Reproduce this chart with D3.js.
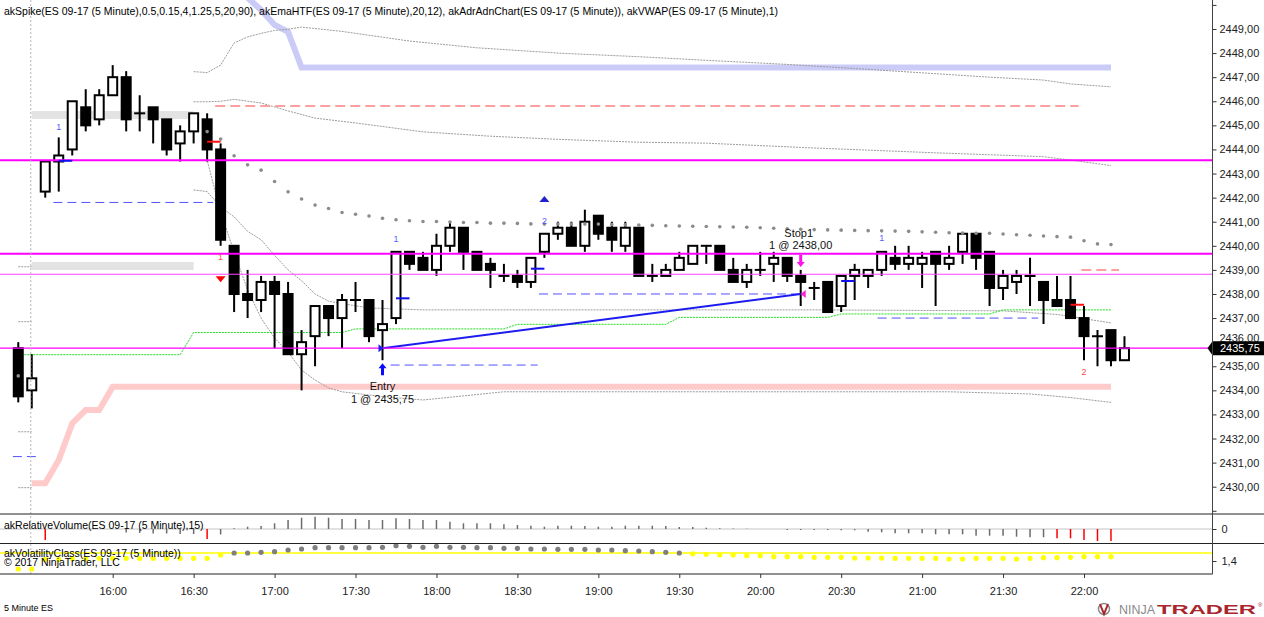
<!DOCTYPE html>
<html>
<head>
<meta charset="utf-8">
<script src="https://cdn.jsdelivr.net/npm/d3@7"></script>
<style>
body { margin: 0; background: #fff; }
svg { display: block; font-family: "Liberation Sans", Arial, sans-serif; }
</style>
</head>
<body>
<script>
// 5 minute ES bars, first bar at 15:25
var firstBar = "15:25";
var opens = [2435.75, 2434.0, 2442.25, 2443.5, 2444.0, 2445.75, 2445.25, 2446.25, 2447.0, 2445.5,
  2445.75, 2445.25, 2444.25, 2444.75, 2445.25, 2444.0, 2440.0, 2438.0, 2437.75, 2438.5,
  2438.0, 2435.5, 2436.25, 2437.5, 2437.0, 2437.75, 2437.75, 2436.5, 2437.0, 2439.75,
  2439.5, 2439.0, 2440.0, 2440.75, 2439.75, 2439.25, 2438.75, 2438.75, 2438.5, 2439.75,
  2440.5, 2440.75, 2440.0, 2441.25, 2440.75, 2440.0, 2440.75, 2438.75, 2438.75, 2439.0,
  2439.25, 2440.0, 2440.0, 2439.0, 2438.5, 2439.0, 2439.25, 2439.5, 2438.75, 2438.25,
  2438.5, 2437.5, 2438.75, 2438.75, 2439.0, 2439.5, 2439.25, 2439.25, 2439.75, 2439.25,
  2439.75, 2440.5, 2439.75, 2438.25, 2438.5, 2438.75, 2438.5, 2437.75, 2437.75, 2437.0,
  2436.25, 2436.5, 2435.25];
var highs = [2436.0, 2435.5, 2443.5, 2444.5, 2446.0, 2446.5, 2446.5, 2447.5, 2447.25, 2446.25,
  2445.75, 2445.25, 2445.0, 2445.5, 2445.5, 2444.25, 2440.0, 2439.0, 2438.75, 2438.75,
  2438.5, 2436.5, 2437.5, 2437.5, 2438.0, 2438.5, 2437.75, 2437.75, 2439.75, 2439.75,
  2439.75, 2440.5, 2441.0, 2440.75, 2439.75, 2439.5, 2439.25, 2439.0, 2439.5, 2440.5,
  2441.0, 2441.0, 2441.5, 2441.25, 2441.0, 2441.0, 2440.75, 2439.25, 2439.25, 2439.75,
  2440.0, 2440.0, 2440.0, 2439.5, 2439.25, 2439.75, 2439.75, 2439.5, 2439.0, 2438.5,
  2438.5, 2438.75, 2439.25, 2439.0, 2439.75, 2440.0, 2440.0, 2439.75, 2439.75, 2440.0,
  2440.5, 2440.5, 2439.75, 2439.0, 2439.0, 2439.5, 2438.5, 2438.75, 2438.75, 2437.5,
  2436.5, 2436.5, 2436.25];
var lows = [2433.5, 2433.25, 2442.0, 2442.25, 2443.75, 2444.75, 2445.0, 2446.25, 2444.75, 2444.75,
  2444.25, 2443.75, 2443.5, 2444.25, 2443.5, 2440.0, 2437.25, 2437.0, 2437.25, 2435.75,
  2435.5, 2434.0, 2435.0, 2436.25, 2435.75, 2437.25, 2436.0, 2435.25, 2436.75, 2439.0,
  2439.0, 2438.75, 2439.75, 2439.0, 2439.0, 2438.25, 2438.5, 2438.25, 2438.25, 2439.5,
  2440.25, 2440.0, 2439.75, 2440.25, 2439.75, 2439.75, 2438.75, 2438.5, 2438.75, 2439.0,
  2439.25, 2439.25, 2439.0, 2438.5, 2438.25, 2438.75, 2438.5, 2438.5, 2437.5, 2437.75,
  2437.25, 2437.25, 2437.75, 2438.25, 2438.75, 2439.0, 2439.0, 2438.25, 2437.5, 2439.0,
  2439.25, 2439.0, 2437.5, 2437.75, 2438.0, 2437.5, 2436.75, 2437.5, 2437.0, 2435.25,
  2435.0, 2435.0, 2435.25];
var closes = [2433.75, 2434.5, 2443.5, 2443.75, 2446.0, 2445.0, 2446.25, 2447.0, 2445.25, 2445.5,
  2445.25, 2444.0, 2444.75, 2445.5, 2444.0, 2440.25, 2438.0, 2437.75, 2438.5, 2438.0,
  2435.5, 2436.0, 2437.5, 2437.0, 2437.75, 2437.75, 2436.25, 2436.75, 2439.75, 2439.25,
  2439.0, 2440.0, 2440.75, 2439.75, 2439.0, 2439.0, 2438.75, 2438.5, 2439.5, 2440.5,
  2440.75, 2440.0, 2441.0, 2440.5, 2440.25, 2440.75, 2438.75, 2438.75, 2439.0, 2439.5,
  2440.0, 2440.0, 2439.0, 2438.5, 2439.0, 2439.0, 2439.5, 2438.75, 2438.5, 2438.25,
  2437.25, 2438.75, 2439.0, 2439.0, 2439.75, 2439.25, 2439.5, 2439.5, 2439.25, 2439.5,
  2440.5, 2439.5, 2438.25, 2438.75, 2438.75, 2438.75, 2437.75, 2437.5, 2437.0, 2436.25,
  2436.25, 2435.25, 2435.75];

// akVWAP dots, one per bar (null = none)
var vwap = [2434.6, null, null, null, null, null, null, null, null, null,
  null, null, null, null, 2444.74, 2444.43, 2443.74, 2443.36, 2443.14, 2442.67,
  2442.24, 2441.94, 2441.69, 2441.55, 2441.38, 2441.31, 2441.24, 2441.14, 2441.08, 2441.04,
  2441.01, 2441.01, 2440.99, 2440.97, 2440.97, 2440.94, 2440.94, 2440.93, 2440.91, 2440.9,
  2440.9, 2440.9, 2440.9, 2440.9, 2440.88, 2440.87, 2440.86, 2440.85, 2440.83, 2440.82,
  2440.81, 2440.8, 2440.79, 2440.78, 2440.77, 2440.75, 2440.73, 2440.71, 2440.69, 2440.67,
  2440.66, 2440.65, 2440.64, 2440.63, 2440.62, 2440.61, 2440.6, 2440.58, 2440.56, 2440.54,
  2440.53, 2440.52, 2440.52, 2440.49, 2440.46, 2440.44, 2440.41, 2440.38, 2440.36, 2440.21,
  2440.08, 2440.05, null];

// akAdrAdnChart grey bands, [bar, price] (bars counted from 1)
var adrTop = [[1, 2439.13], [2, 2439.13], [3, null], [14, 2447.23], [15, 2447.19], [16, 2447.5], [17, 2448.42],
  [18, 2448.67], [19, 2448.82], [20, 2448.94], [21, 2448.99], [22, 2449.08], [25, 2448.9], [30, 2448.5],
  [35, 2448.22], [41, 2448.0], [47, 2447.85], [52, 2447.7], [58, 2447.53], [63, 2447.36], [68, 2447.18],
  [73, 2447.0], [77, 2446.88], [79, 2446.72], [82, 2446.6]];
var adrHigh = [[1, 2436.85], [2, 2436.85], [3, null], [14, 2445.98], [15, 2445.98], [16, 2446.0], [17, 2446.08],
  [19, 2445.93], [21, 2445.6], [23, 2445.3], [26, 2445.1], [31, 2444.73], [36, 2444.55], [41, 2444.42],
  [47, 2444.3], [52, 2444.26], [60, 2444.06], [69, 2443.86], [77, 2443.7], [79, 2443.56], [82, 2443.33]];
var adrLow = [[1, 2432.28], [2, 2432.28], [3, null], [14, 2442.32], [15, 2442.25], [16, 2441.62], [17, 2441.2],
  [18, 2440.6], [19, 2440.25], [20, 2439.6], [21, 2439.0], [22, 2438.55], [23, 2438.0], [24, 2437.7],
  [25, 2437.6], [27, 2437.42], [31, 2437.34], [60, 2437.34], [74, 2437.3], [78, 2437.15], [82, 2436.8]];
var adrBottom = [[1, 2429.96], [2, 2429.96], [3, null], [14, 2443.56], [15, 2443.56], [16, 2441.4], [17, 2439.74],
  [18, 2438.17], [19, 2437.0], [20, 2436.17], [21, 2435.59], [22, 2434.84], [23, 2434.43], [24, 2434.1],
  [25, 2433.94], [28, 2433.74], [31, 2433.6], [34, 2433.77], [37, 2433.94], [70, 2433.94], [76, 2433.85],
  [79, 2433.7], [82, 2433.5]];

// akEmaHTF and the other indicator lines
var emaHtf = [[18, 2450.3], [19, 2449.79], [20, 2449.17], [21, 2448.88], [22, 2447.4], [82, 2447.4]];
var supportBand = [[2, 2430.14], [3, 2430.14], [4, 2431.11], [5, 2432.63], [6, 2433.18], [7, 2433.18],
  [8, 2434.15], [82, 2434.15]];
var greenStop = [[1, 2435.48], [13, 2435.48], [14, 2436.4], [25, 2436.4], [26, 2436.55], [37, 2436.55],
  [38, 2436.74], [49, 2436.74], [50, 2437.03], [61, 2437.03], [62, 2437.17], [73, 2437.17],
  [74, 2437.34], [82, 2437.34]];
var spikeZones = [[2, 14, 2445.43], [2, 14, 2439.16]];

// horizontal levels [fromBar, toBar, price]
var blueDashes = [[3.6, 15.45, 2441.8], [28.6, 39.5, 2435.05], [39.6, 59, 2438.0], [64.7, 76.6, 2437.0], [0.6, 2.3, 2431.25]];
var redDashes = [[15.6, 79.6, 2445.8], [79.8, 82.6, 2439.0]];
var blueTicks = [[4, 5, 2443.53], [29, 30, 2437.82], [39, 40, 2439.05], [62, 63, 2438.54]];
var redTicks = [[15, 16, 2444.32], [79, 80, 2437.55]];
var magentaLevels = [2443.55, 2439.67, 2438.82, 2435.75];

// signal counts [bar, price, text]
var blueCounts = [[4, 2444.95, "1"], [29, 2440.28, "1"], [40, 2441.04, "2"], [65, 2440.31, "1"]];
var redCounts = [[16, 2439.52, "1"], [80, 2434.77, "2"]];
var downSignals = [[16, 2438.61]];
var upSignals = [[40, 2441.94]];

// trade
var entryBar = 28, entryPrice = 2435.75;
var exitBar = 59, exitPrice = 2438.00;

// lower panels
var relVolume = [null, null, -1.1, null, null, null, null, null, -0.35, -0.4,
  -0.45, -0.45, -0.5, -0.5, -1.0, -0.55, 0.07, 0.23, 0.3, 0.57,
  0.9, 1.13, 1.23, 1.13, 1.0, 1.0, 0.9, 0.9, 1.07, 1.0,
  0.9, 0.9, 0.73, 0.57, 0.57, 0.57, 0.47, 0.4, 0.33, 0.23,
  0.33, 0.33, 0.3, 0.23, 0.23, 0.33, 0.33, 0.33, 0.3, 0.2,
  0.2, 0.13, 0.07, 0.05, 0.03, null, null, -0.1, -0.1, -0.1,
  -0.1, -0.13, -0.13, -0.27, -0.33, -0.43, -0.43, -0.43, -0.53, -0.53,
  -0.53, -0.67, -0.67, -0.67, -0.77, -0.83, -0.83, -0.93, -0.93, -1.1,
  -1.2, -1.2, null];
var relVolumeSpikes = [3, 15, 78, 79, 80, 81, 82];
var volClass = [1.3, 1.3, 1.42, 1.42, 1.43, 1.43, 1.434, 1.434, 1.434, 1.434,
  1.434, 1.434, 1.434, 1.434, 1.434, 1.475, 1.5, 1.5, 1.509, 1.516,
  1.5375, 1.55, 1.566, 1.566, 1.566, 1.566, 1.566, 1.571, 1.591, 1.584,
  1.571, 1.584, 1.571, 1.571, 1.566, 1.566, 1.559, 1.559, 1.55, 1.55,
  1.546, 1.546, 1.546, 1.5375, 1.5375, 1.529, 1.525, 1.516, 1.509, 1.5,
  1.49, 1.484, 1.475, 1.475, 1.466, 1.466, 1.454, 1.454, 1.454, 1.446,
  1.446, 1.446, 1.4375, 1.4375, 1.4375, 1.434, 1.434, 1.434, 1.434, 1.425,
  1.425, 1.434, 1.434, 1.434, 1.425, 1.434, 1.441, 1.441, 1.446, 1.454,
  1.454, 1.454, null];
var volThreshold = 1.5;

var priceTicks = d3.range(2429, 2451);
var timeTicks = ["16:00", "16:30", "17:00", "17:30", "18:00", "18:30", "19:00", "19:30", "20:00", "20:30", "21:00", "21:30", "22:00"];

// ---------------------------------------------------------------------------
var width = 1264, height = 617;
var plotRight = 1212.5, priceBottom = 514, volBottom = 543.5, panelBottom = 574;

var parseT = d3.timeParse("%H:%M");
var t0 = parseT(firstBar);
function tAt(i) { return new Date(+t0 + (i - 1) * 5 * 60000); }
function comma(v) { return d3.format(".2f")(v).replace(".", ","); }
function comma1(v) { return d3.format(".1f")(v).replace(".", ","); }

var x = d3.scaleTime().domain([parseT("16:00"), parseT("22:00")]).range([112.7, 1084]);
var y = d3.scaleLinear().domain([2430, 2449]).range([486.7, 29]);
var yVol = d3.scaleLinear().domain([-1.5, 1.5]).range([544, 514]);
var yVc = d3.scaleLinear().domain([1.3, 1.6]).range([569, 545]);

var bars = opens.map(function(o, k) {
  return { i: k + 1, t: tAt(k + 1), o: o, h: highs[k], l: lows[k], c: closes[k] };
});
function bx(i) { return x(tAt(i)); }

var svg = d3.select("body").append("svg")
  .attr("width", width)
  .attr("height", height);

svg.append("defs").append("clipPath").attr("id", "clipPrice")
  .append("rect").attr("x", 0).attr("y", 0).attr("width", plotRight).attr("height", priceBottom);

var price = svg.append("g").attr("clip-path", "url(#clipPrice)");

// session break
svg.append("line")
  .attr("x1", x(parseT("15:30")) - 1).attr("x2", x(parseT("15:30")) - 1)
  .attr("y1", 0).attr("y2", panelBottom)
  .attr("stroke", "#b8b8b8").attr("stroke-dasharray", "2,2");

// akSpike zones
price.selectAll("line.zone").data(spikeZones).enter().append("line")
  .attr("x1", function(d) { return bx(d[0]); })
  .attr("x2", function(d) { return bx(d[1]); })
  .attr("y1", function(d) { return y(d[2]); })
  .attr("y2", function(d) { return y(d[2]); })
  .attr("stroke", "#e3e3e3").attr("stroke-width", 8);

var pairLine = d3.line()
  .defined(function(d) { return d[1] != null; })
  .x(function(d) { return bx(d[0]); })
  .y(function(d) { return y(d[1]); });

price.append("path").attr("d", pairLine(supportBand))
  .attr("fill", "none").attr("stroke", "#ffcaca").attr("stroke-width", 6);
price.append("path").attr("d", pairLine(emaHtf))
  .attr("fill", "none").attr("stroke", "#cbcbf7").attr("stroke-width", 6);

[adrTop, adrHigh, adrLow, adrBottom].forEach(function(s) {
  price.append("path").attr("d", pairLine(s))
    .attr("fill", "none").attr("stroke", "#9c9c9c").attr("stroke-width", 1)
    .attr("stroke-dasharray", "2,1");
});

price.append("path").attr("d", pairLine(greenStop))
  .attr("fill", "none").attr("stroke", "#22dd22").attr("stroke-width", 1)
  .attr("stroke-dasharray", "2,1");

function levels(data, cls, color, w, dash) {
  price.selectAll("line." + cls).data(data).enter().append("line")
    .attr("class", cls)
    .attr("x1", function(d) { return bx(d[0]); })
    .attr("x2", function(d) { return bx(d[1]); })
    .attr("y1", function(d) { return y(d[2]); })
    .attr("y2", function(d) { return y(d[2]); })
    .attr("stroke", color).attr("stroke-width", w)
    .attr("stroke-dasharray", dash);
}
levels(redDashes, "rdash", "#ffa0a0", 2, "10,5");
levels(blueDashes, "bdash", "#5252ff", 1, "9,5");

// candles
var candles = price.selectAll("g.bar").data(bars).enter().append("g").attr("class", "bar");
candles.append("line")
  .attr("x1", function(d) { return x(d.t); })
  .attr("x2", function(d) { return x(d.t); })
  .attr("y1", function(d) { return y(d.h); })
  .attr("y2", function(d) { return y(d.l); })
  .attr("stroke", "#000").attr("stroke-width", 2);
candles.filter(function(d) { return d.o !== d.c; }).append("rect")
  .attr("x", function(d) { return x(d.t) - 4.5; })
  .attr("width", 9)
  .attr("y", function(d) { return y(Math.max(d.o, d.c)); })
  .attr("height", function(d) { return Math.abs(y(d.o) - y(d.c)); })
  .attr("fill", function(d) { return d.c > d.o ? "#fff" : "#000"; })
  .attr("stroke", "#000").attr("stroke-width", 2);
candles.filter(function(d) { return d.o === d.c; }).append("line")
  .attr("x1", function(d) { return x(d.t) - 5.5; })
  .attr("x2", function(d) { return x(d.t) + 5.5; })
  .attr("y1", function(d) { return y(d.c); })
  .attr("y2", function(d) { return y(d.c); })
  .attr("stroke", "#000").attr("stroke-width", 2);

// trade line
price.append("line")
  .attr("x1", bx(entryBar)).attr("y1", y(entryPrice))
  .attr("x2", bx(exitBar)).attr("y2", y(exitPrice))
  .attr("stroke", "#1c1cf0").attr("stroke-width", 2);

// VWAP dots
price.selectAll("circle.vwap").data(vwap.map(function(v, k) { return [k + 1, v]; })
    .filter(function(d) { return d[1] != null; }))
  .enter().append("circle")
  .attr("class", "vwap")
  .attr("cx", function(d) { return bx(d[0]); })
  .attr("cy", function(d) { return y(d[1]); })
  .attr("r", 1.8).attr("fill", "#8c8c8c");

// magenta levels
price.selectAll("line.mag").data(magentaLevels).enter().append("line")
  .attr("x1", 0).attr("x2", plotRight)
  .attr("y1", function(d) { return y(d); })
  .attr("y2", function(d) { return y(d); })
  .attr("stroke", function(d, k) { return k === 2 ? "#ff44ff" : "#ff00ff"; })
  .attr("stroke-width", function(d, k) { return k < 2 ? 2 : 1.2; });

levels(blueTicks, "btick", "#1010ee", 2, null);
levels(redTicks, "rtick", "#ff1010", 2, null);

function counts(data, color) {
  price.selectAll(null).data(data).enter().append("text")
    .attr("x", function(d) { return bx(d[0]); })
    .attr("y", function(d) { return y(d[1]) + 3; })
    .attr("text-anchor", "middle").attr("font-size", 9)
    .attr("fill", color).text(function(d) { return d[2]; });
}
counts(blueCounts, "#5a5aff");
counts(redCounts, "#ff4a4a");

price.selectAll(null).data(downSignals).enter().append("path")
  .attr("d", function(d) { var cx = bx(d[0]), cy = y(d[1]); return "M" + (cx - 5) + "," + (cy - 3) + "L" + (cx + 5) + "," + (cy - 3) + "L" + cx + "," + (cy + 3) + "Z"; })
  .attr("fill", "#ff0000");
price.selectAll(null).data(upSignals).enter().append("path")
  .attr("d", function(d) { var cx = bx(d[0]), cy = y(d[1]); return "M" + (cx - 5) + "," + (cy + 3) + "L" + (cx + 5) + "," + (cy + 3) + "L" + cx + "," + (cy - 3) + "Z"; })
  .attr("fill", "#2020cc");

// entry / exit
var ex = bx(entryBar), ey = y(entryPrice);
price.append("path")
  .attr("d", "M" + (ex - 4) + "," + (ey - 4) + "L" + (ex + 1) + "," + ey + "L" + (ex - 4) + "," + (ey + 4) + "Z")
  .attr("fill", "#2020ee");
price.append("path")
  .attr("d", "M" + ex + "," + (ey + 15) + "L" + (ex + 4) + "," + (ey + 20) + "L" + (ex + 1.5) + "," + (ey + 20) +
    "L" + (ex + 1.5) + "," + (ey + 27) + "L" + (ex - 1.5) + "," + (ey + 27) + "L" + (ex - 1.5) + "," + (ey + 20) +
    "L" + (ex - 4) + "," + (ey + 20) + "Z")
  .attr("fill", "#0a0aff");
price.append("text").attr("x", ex).attr("y", ey + 42).attr("text-anchor", "middle")
  .attr("font-size", 11).attr("fill", "#111").text("Entry");
price.append("text").attr("x", ex).attr("y", ey + 55).attr("text-anchor", "middle")
  .attr("font-size", 11).attr("fill", "#111").text("1 @ " + comma(entryPrice));

var sx = bx(exitBar), sy = y(exitPrice);
price.append("path")
  .attr("d", "M" + (sx + 5) + "," + (sy - 4) + "L" + sx + "," + sy + "L" + (sx + 5) + "," + (sy + 4) + "Z")
  .attr("fill", "#ff20d0");
price.append("path")
  .attr("d", "M" + sx + "," + (sy - 27) + "L" + (sx + 4) + "," + (sy - 32) + "L" + (sx + 1.5) + "," + (sy - 32) +
    "L" + (sx + 1.5) + "," + (sy - 39) + "L" + (sx - 1.5) + "," + (sy - 39) + "L" + (sx - 1.5) + "," + (sy - 32) +
    "L" + (sx - 4) + "," + (sy - 32) + "Z")
  .attr("fill", "#ff10ee");
price.append("text").attr("x", sx - 2).attr("y", sy - 57).attr("text-anchor", "middle")
  .attr("font-size", 11).attr("fill", "#111").text("Stop1");
price.append("text").attr("x", sx).attr("y", sy - 45).attr("text-anchor", "middle")
  .attr("font-size", 11).attr("fill", "#111").text("1 @ " + comma(exitPrice));

// title
svg.append("text").attr("x", 4).attr("y", 15).attr("font-size", 10.5).attr("fill", "#000")
  .text("akSpike(ES 09-17 (5 Minute),0.5,0.15,4,1.25,5,20,90), akEmaHTF(ES 09-17 (5 Minute),20,12), akAdrAdnChart(ES 09-17 (5 Minute)), akVWAP(ES 09-17 (5 Minute),1)");

// price axis
var yAxis = svg.append("g").attr("transform", "translate(" + plotRight + ",0)")
  .call(d3.axisRight(y).tickValues(priceTicks).tickSize(4).tickPadding(3)
    .tickFormat(function(v) { return v >= 2430 && v <= 2449 ? comma(v) : ""; }));
yAxis.select(".domain").remove();
yAxis.selectAll(".tick line").attr("stroke", "#333");
yAxis.selectAll("text").attr("font-size", 11).attr("fill", "#222")
  .attr("font-family", "'Liberation Sans', Arial, sans-serif");

// last price marker (covers the label underneath, as in the platform)
var lastPrice = closes[closes.length - 1];
var ly = y(lastPrice);
yAxis.selectAll(".tick").filter(function(v) { return Math.abs(y(v) - ly) < 9; })
  .select("text").attr("dy", "-0.05em");
svg.append("path")
  .attr("d", "M" + (plotRight - 5) + "," + ly + "L" + plotRight + "," + (ly - 7) + "L1264," + (ly - 7) +
    "L1264," + (ly + 7) + "L" + plotRight + "," + (ly + 7) + "Z")
  .attr("fill", "#000");
svg.append("text").attr("x", 1220).attr("y", ly + 4).attr("font-size", 11).attr("fill", "#fff")
  .text(comma(lastPrice));

// relative volume panel
svg.append("line").attr("x1", 0).attr("x2", plotRight).attr("y1", yVol(0)).attr("y2", yVol(0))
  .attr("stroke", "#c4c4c4");
svg.selectAll("line.rv").data(relVolume.map(function(v, k) { return [k + 1, v]; })
    .filter(function(d) { return d[1] != null; }))
  .enter().append("line")
  .attr("class", "rv")
  .attr("x1", function(d) { return bx(d[0]); })
  .attr("x2", function(d) { return bx(d[0]); })
  .attr("y1", yVol(0))
  .attr("y2", function(d) { return yVol(d[1]); })
  .attr("stroke", function(d) { return relVolumeSpikes.indexOf(d[0]) >= 0 ? "#ff0000" : "#6c6c6c"; })
  .attr("stroke-width", 1.5);

// volatility class panel
svg.append("line").attr("x1", 0).attr("x2", plotRight).attr("y1", yVc(volThreshold)).attr("y2", yVc(volThreshold))
  .attr("stroke", "#ffff00").attr("stroke-width", 1.5);
svg.selectAll("circle.vc").data(volClass.map(function(v, k) { return [k + 1, v]; })
    .filter(function(d) { return d[1] != null; }))
  .enter().append("circle")
  .attr("class", "vc")
  .attr("cx", function(d) { return bx(d[0]); })
  .attr("cy", function(d) { return yVc(d[1]); })
  .attr("r", 2.6)
  .attr("fill", function(d) { return d[1] >= volThreshold ? "#7f7f7f" : "#ffff00"; });

var vAx = svg.append("g").attr("transform", "translate(" + plotRight + ",0)")
  .call(d3.axisRight(yVol).tickValues([0]).tickSize(4).tickPadding(5).tickFormat(d3.format("d")));
var cAx = svg.append("g").attr("transform", "translate(" + plotRight + ",0)")
  .call(d3.axisRight(yVc).tickValues([1.4]).tickSize(4).tickPadding(5).tickFormat(comma1));
[vAx, cAx].forEach(function(g) {
  g.select(".domain").remove();
  g.selectAll(".tick line").attr("stroke", "#333");
  g.selectAll("text").attr("font-size", 11).attr("fill", "#222")
    .attr("font-family", "'Liberation Sans', Arial, sans-serif");
});

// panel borders
svg.append("line").attr("x1", 0).attr("x2", width).attr("y1", priceBottom).attr("y2", priceBottom).attr("stroke", "#222");
svg.append("line").attr("x1", 0).attr("x2", width).attr("y1", volBottom).attr("y2", volBottom).attr("stroke", "#222");
svg.append("line").attr("x1", 0).attr("x2", plotRight).attr("y1", panelBottom).attr("y2", panelBottom).attr("stroke", "#222");
svg.append("line").attr("x1", plotRight).attr("x2", plotRight).attr("y1", 0).attr("y2", panelBottom).attr("stroke", "#444");

svg.append("text").attr("x", 4).attr("y", 529).attr("font-size", 10.5).attr("fill", "#000")
  .text("akRelativeVolume(ES 09-17 (5 Minute),15)");
svg.append("text").attr("x", 4).attr("y", 557).attr("font-size", 10.5).attr("fill", "#000")
  .text("akVolatilityClass(ES 09-17 (5 Minute))");
svg.append("text").attr("x", 4).attr("y", 566).attr("font-size", 10.5).attr("fill", "#000")
  .text("\u00a9 2017 NinjaTrader, LLC");

// time axis
var xAxis = svg.append("g").attr("transform", "translate(0," + panelBottom + ")")
  .call(d3.axisBottom(x).tickValues(timeTicks.map(parseT)).tickSize(4).tickPadding(9)
    .tickFormat(d3.timeFormat("%H:%M")));
xAxis.select(".domain").remove();
xAxis.selectAll(".tick line").attr("stroke", "#333");
xAxis.selectAll("text").attr("font-size", 11).attr("fill", "#222")
  .attr("font-family", "'Liberation Sans', Arial, sans-serif");

svg.append("text").attr("x", 4).attr("y", 611).attr("font-size", 9).attr("fill", "#000").text("5 Minute ES");

// NinjaTrader logo
svg.append("circle").attr("cx", 1104).attr("cy", 609).attr("r", 5.5)
  .attr("fill", "none").attr("stroke", "#8a8a8a").attr("stroke-width", 1.5);
svg.append("path").attr("d", "M1100,604L1104,614L1108,604").attr("fill", "none")
  .attr("stroke", "#a8262c").attr("stroke-width", 2);
svg.append("text").attr("x", 1119).attr("y", 614).attr("font-size", 13).attr("fill", "#8a8a8a")
  .attr("textLength", 36).attr("lengthAdjust", "spacingAndGlyphs").text("NINJA");
svg.append("text").attr("x", 1157).attr("y", 614).attr("font-size", 13).attr("font-weight", "bold").attr("fill", "#a8262c")
  .attr("textLength", 99).attr("lengthAdjust", "spacingAndGlyphs").text("TRADER");
svg.append("text").attr("x", 1258).attr("y", 607).attr("font-size", 6).attr("fill", "#a8262c").text("\u00ae");
</script>
</body>
</html>
